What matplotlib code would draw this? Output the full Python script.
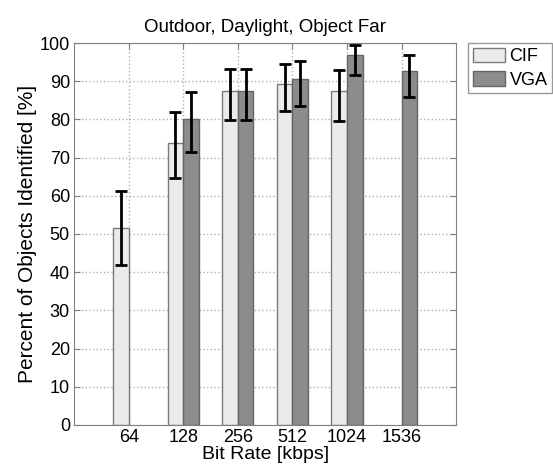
import numpy as np
import matplotlib.pyplot as plt

plt.rcParams['font.family'] = ['Liberation Sans', 'DejaVu Sans']

rates = ['64', '128', '256', '512', '1024', '1536']
# percent identified and confidence bounds
cif = [51.6, 73.7, 87.4, 89.4, 87.5, np.nan]
cif_lo = [41.9, 64.6, 79.8, 82.3, 79.7, np.nan]
cif_hi = [61.3, 81.9, 93.1, 94.5, 93.0, np.nan]
vga = [np.nan, 80.0, 87.4, 90.5, 96.8, 92.7]
vga_lo = [np.nan, 71.5, 79.8, 83.6, 91.7, 86.0]
vga_hi = [np.nan, 87.1, 93.1, 95.4, 99.4, 96.9]

fig = plt.figure(figsize=(5.53, 4.68), dpi=100)
ax = fig.add_axes([0.134, 0.092, 0.691, 0.816])

x = np.arange(1, len(rates) + 1)
w = 0.286
cif = np.array(cif); vga = np.array(vga)
cif_err = [cif - np.array(cif_lo), np.array(cif_hi) - cif]
vga_err = [vga - np.array(vga_lo), np.array(vga_hi) - vga]

ax.bar(x - w/2, cif, w, color='#ebebeb', edgecolor='#7a7a7a', linewidth=1, label='CIF', zorder=2)
ax.bar(x + w/2, vga, w, color='#8c8c8c', edgecolor='#666666', linewidth=1, label='VGA', zorder=2)
ax.errorbar(x - w/2, cif, yerr=cif_err, fmt='none', ecolor='black', elinewidth=2, capsize=4, capthick=2, zorder=3)
ax.errorbar(x + w/2, vga, yerr=vga_err, fmt='none', ecolor='black', elinewidth=2, capsize=4, capthick=2, zorder=3)

ax.set_xlim(0, 7)
ax.set_ylim(0, 100)
ax.set_xticks(x)
ax.set_xticklabels(rates)
ax.set_yticks(np.arange(0, 101, 10))
ax.grid(True, linestyle=':', color='#b0b0b0', linewidth=1, zorder=0)
ax.set_axisbelow(True)
ax.tick_params(direction='in', top=True, right=True, length=4, color='#808080', labelsize=13, pad=3)
for s in ax.spines.values():
    s.set_color('#808080')

ax.set_title('Outdoor, Daylight, Object Far', fontsize=13.5, pad=8)
ax.set_xlabel('Bit Rate [kbps]', fontsize=14, labelpad=0)
ax.set_ylabel('Percent of Objects Identified [%]', fontsize=15, labelpad=2)

leg = ax.legend(loc='upper left', bbox_to_anchor=(1.031, 1.0), fontsize=13, frameon=True,
                fancybox=False, edgecolor='#808080', borderpad=0.25, handlelength=1.8,
                handleheight=0.85, handletextpad=0.25, borderaxespad=0, labelspacing=0.35)
leg.get_frame().set_linewidth(1)

fig.savefig('out.png', dpi=100)
